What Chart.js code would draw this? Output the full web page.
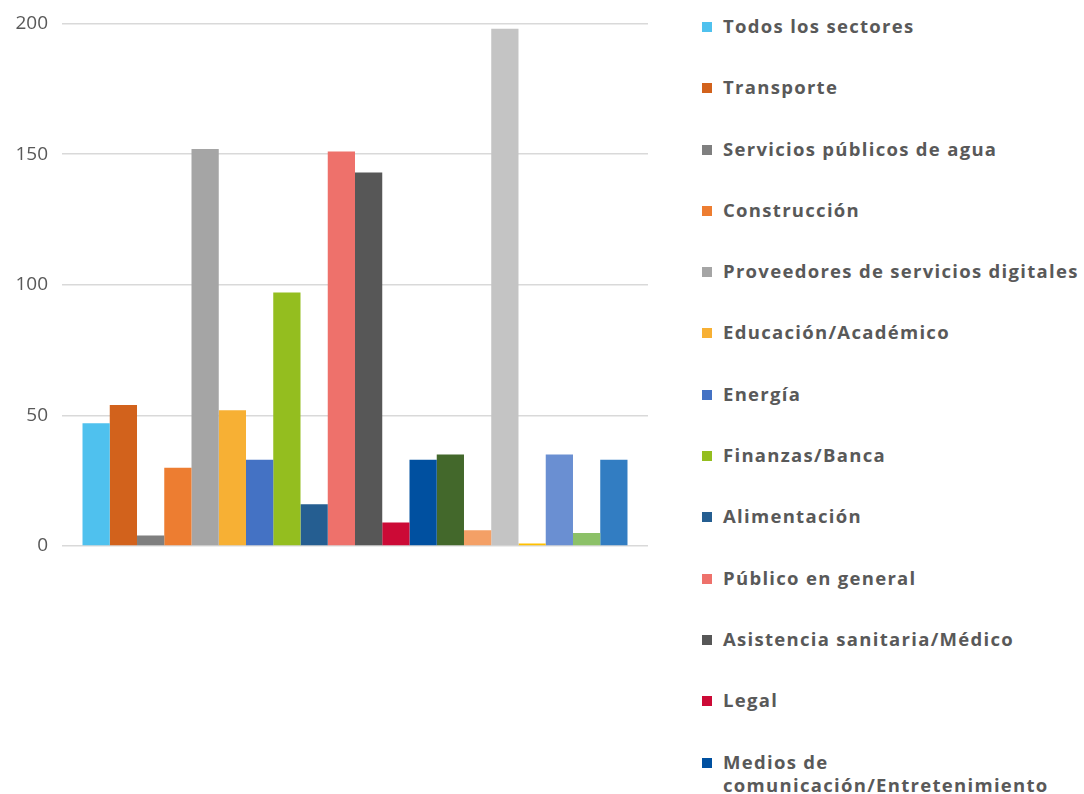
<!DOCTYPE html>
<html>
<head>
<meta charset="utf-8">
<script src="https://cdn.jsdelivr.net/npm/chart.js@4"></script>
<style>
  html, body { margin: 0; padding: 0; background: #fff; width: 1084px; height: 794px; overflow: hidden; }
  #wrap { position: absolute; left: 0; top: 0; width: 660px; height: 794px; }
  #legend { position: absolute; left: 702px; top: 14px; width: 382px; height: 780px; overflow: hidden;
    font-family: "Open Sans", sans-serif; font-weight: 700; font-size: 18.5px; letter-spacing: 1.3px; color: #595959; }
  .item { display: flex; align-items: flex-start; height: 61.3px; }
  .sw { width: 10px; height: 10px; flex: none; margin-top: 8px; margin-right: 11px; }
  .txt { line-height: 23px; width: 362px; }
</style>
</head>
<body>
<div id="wrap"><canvas id="chart"></canvas></div>
<div id="legend"></div>
<script>
// sectors (only the first 13 names are visible in the source picture)
const sectors = [
  'Todos los sectores', 'Transporte', 'Servicios públicos de agua', 'Construcción',
  'Proveedores de servicios digitales', 'Educación/Académico', 'Energía', 'Finanzas/Banca',
  'Alimentación', 'Público en general', 'Asistencia sanitaria/Médico', 'Legal',
  'Medios de comunicación/Entretenimiento', 'Fabricación', 'Comercio minorista',
  'Tecnología', 'Hostelería', 'Gobierno', 'Agricultura', 'Otros'
];
const counts = [47, 54, 4, 30, 152, 52, 33, 97, 16, 151, 143, 9, 33, 35, 6, 198, 1, 35, 5, 33];
const colors = [
  '#4FC1EE', '#D2621C', '#7F7F7F', '#ED7D31', '#A5A5A5', '#F7B034', '#4472C4', '#94BE1F',
  '#255E91', '#EE716B', '#575757', '#CC0A36', '#0050A0', '#43682B', '#F4A066', '#C4C4C4',
  '#FFC000', '#6A8FD2', '#8CC168', '#327DC2'
];
const yTicks = [0, 50, 100, 150, 200];

const datasets = sectors.map((name, i) => ({
  label: name,
  data: [counts[i]],
  backgroundColor: colors[i],
  borderWidth: 0,
  barPercentage: 1,
  categoryPercentage: 0.93
}));

const chart = new Chart(document.getElementById('chart'), {
  type: 'bar',
  data: { labels: [''], datasets },
  options: {
    responsive: true,
    maintainAspectRatio: false,
    animation: false,
    layout: { padding: { left: 8, right: 12, top: 6, bottom: 248 } },
    plugins: { legend: { display: false }, tooltip: { enabled: false } },
    scales: {
      x: { display: false },
      y: {
        min: 0, max: 200,
        afterBuildTicks: axis => { axis.ticks = yTicks.map(v => ({ value: v })); },
        afterFit: axis => { axis.width = 54; },
        border: { display: false },
        grid: { color: '#D9D9D9', lineWidth: 1.5, drawTicks: false },
        ticks: { color: '#595959', padding: 14, font: { family: 'Open Sans', size: 19, lineHeight: 1 } }
      }
    }
  }
});

// legend built from the datasets
const legendEl = document.getElementById('legend');
chart.data.datasets.forEach(ds => {
  const item = document.createElement('div');
  item.className = 'item';
  item.innerHTML = `<span class="sw" style="background:${ds.backgroundColor}"></span><span class="txt">${ds.label}</span>`;
  legendEl.appendChild(item);
});
</script>
</body>
</html>
